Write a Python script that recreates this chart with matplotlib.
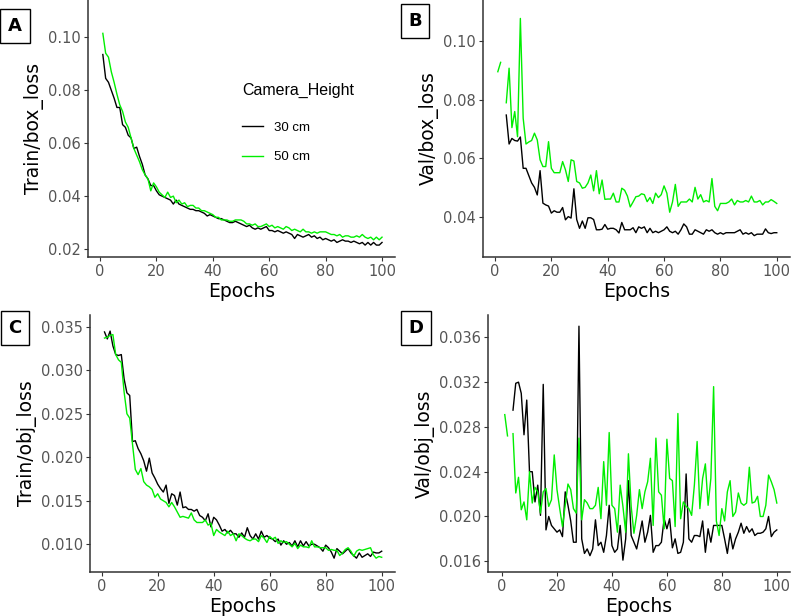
import numpy as np
import matplotlib
matplotlib.use('Agg')
import matplotlib.pyplot as plt

nan = np.nan
epochs = np.arange(1, 101)

# Train/box_loss
train_box_30 = [0.0935, 0.0845, 0.083, 0.080, 0.077, 0.0735, 0.0735, 0.067, 0.066, 0.063,
                0.062, 0.058, 0.0585, 0.055, 0.052, 0.048, 0.0465, 0.044, 0.044, 0.042,
                0.0405, 0.040, 0.0395, 0.039, 0.0385, 0.037, 0.0385, 0.037, 0.0365, 0.036,
                0.0355, 0.035, 0.035, 0.0345, 0.0345, 0.034, 0.0335, 0.0325, 0.033, 0.0325,
                0.032, 0.0315, 0.0315, 0.031, 0.0305, 0.030, 0.030, 0.0305, 0.030, 0.0295,
                0.029, 0.0285, 0.029, 0.028, 0.0275, 0.028, 0.0275, 0.028, 0.0285, 0.027,
                0.027, 0.0265, 0.027, 0.0265, 0.026, 0.0265, 0.026, 0.0255, 0.024, 0.0255,
                0.025, 0.0245, 0.025, 0.0255, 0.0245, 0.025, 0.024, 0.0245, 0.0235, 0.024,
                0.0235, 0.023, 0.0235, 0.0225, 0.023, 0.0235, 0.023, 0.023, 0.0225, 0.023,
                0.0225, 0.022, 0.0225, 0.0215, 0.0225, 0.0215, 0.0225, 0.0215, 0.0215, 0.0225]
train_box_50 = [0.1015, 0.094, 0.0925, 0.087, 0.083, 0.0785, 0.0745, 0.072, 0.068, 0.066,
                0.062, 0.058, 0.0555, 0.053, 0.050, 0.048, 0.0465, 0.042, 0.045, 0.0435,
                0.0415, 0.0405, 0.0395, 0.0415, 0.0395, 0.040, 0.0375, 0.0385, 0.037, 0.0375,
                0.036, 0.0365, 0.0365, 0.0355, 0.0355, 0.0345, 0.0345, 0.034, 0.0335, 0.033,
                0.032, 0.032, 0.031, 0.031, 0.031, 0.0305, 0.0305, 0.031, 0.031, 0.031,
                0.0305, 0.0295, 0.0295, 0.029, 0.0295, 0.0285, 0.0285, 0.029, 0.0295, 0.0285,
                0.029, 0.028, 0.0285, 0.028, 0.0275, 0.0285, 0.028, 0.027, 0.0275, 0.027,
                0.0265, 0.0275, 0.0265, 0.0265, 0.026, 0.0265, 0.026, 0.0265, 0.0265, 0.0265,
                0.026, 0.0255, 0.0255, 0.025, 0.0255, 0.0245, 0.025, 0.025, 0.0245, 0.0245,
                0.025, 0.0245, 0.0255, 0.0245, 0.024, 0.0245, 0.0235, 0.0245, 0.0235, 0.0245]

# Val/box_loss
val_box_30 = [nan, nan, nan, 0.0747, 0.0648, 0.0667, 0.066, 0.0658, 0.0672, 0.0565,
              0.0565, 0.054, 0.0515, 0.050, 0.0474, 0.0557, 0.0446, 0.044, 0.0436, 0.0412,
              0.042, 0.0415, 0.0415, 0.0431, 0.0389, 0.040, 0.0395, 0.0495, 0.039, 0.036,
              0.0385, 0.036, 0.0396, 0.0396, 0.039, 0.0355, 0.0355, 0.0357, 0.0373, 0.0357,
              0.036, 0.036, 0.0355, 0.0344, 0.038, 0.0355, 0.0355, 0.0355, 0.0362, 0.0345,
              0.0365, 0.036, 0.0365, 0.0345, 0.036, 0.0345, 0.035, 0.0345, 0.035, 0.0355,
              0.0365, 0.035, 0.0345, 0.035, 0.034, 0.0355, 0.0375, 0.0365, 0.034, 0.034,
              0.0355, 0.035, 0.0345, 0.034, 0.0355, 0.035, 0.0355, 0.0345, 0.034, 0.0345,
              0.034, 0.0345, 0.0345, 0.0345, 0.0345, 0.035, 0.0355, 0.034, 0.0345, 0.034,
              0.0345, 0.0335, 0.034, 0.034, 0.034, 0.0358, 0.0345, 0.0342, 0.0345, 0.0345]
val_box_50 = [0.0895, 0.0927, nan, 0.0789, 0.0907, 0.0704, 0.0759, 0.0673, 0.1077, 0.0736,
              0.0648, 0.0655, 0.066, 0.0685, 0.0662, 0.0594, 0.0571, 0.0571, 0.0656, 0.0565,
              0.055, 0.055, 0.055, 0.0588, 0.056, 0.052, 0.0594, 0.059, 0.052, 0.0515,
              0.0497, 0.050, 0.0515, 0.0542, 0.0488, 0.0557, 0.0478, 0.0525, 0.0459, 0.046,
              0.046, 0.048, 0.045, 0.045, 0.0497, 0.049, 0.047, 0.0433, 0.045, 0.0468,
              0.047, 0.0478, 0.0475, 0.0451, 0.0465, 0.0445, 0.048, 0.0465, 0.0475, 0.0505,
              0.048, 0.0415, 0.045, 0.051, 0.0435, 0.045, 0.045, 0.045, 0.046, 0.045,
              0.050, 0.046, 0.0475, 0.045, 0.0455, 0.045, 0.053, 0.0435, 0.042, 0.0445,
              0.0445, 0.0445, 0.045, 0.046, 0.044, 0.0455, 0.045, 0.045, 0.0455, 0.045,
              0.047, 0.045, 0.045, 0.0455, 0.044, 0.045, 0.045, 0.0458, 0.0452, 0.0445]

# Train/obj_loss
train_obj_30 = [0.0344, 0.0336, 0.0345, 0.0328, 0.0318, 0.0317, 0.0318, 0.0290, 0.0274, 0.0271,
                0.0218, 0.0219, 0.0210, 0.0204, 0.0196, 0.0184, 0.0199, 0.0182, 0.0176, 0.0169,
                0.0164, 0.0160, 0.0168, 0.0147, 0.0158, 0.0156, 0.0145, 0.0160, 0.0142, 0.0143,
                0.0140, 0.0140, 0.0138, 0.0140, 0.0133, 0.0131, 0.0127, 0.0135, 0.0120, 0.0131,
                0.0128, 0.0122, 0.0115, 0.0117, 0.0113, 0.0116, 0.0112, 0.0112, 0.0108, 0.0113,
                0.0108, 0.0119, 0.0110, 0.0106, 0.0112, 0.0106, 0.0115, 0.0108, 0.0110, 0.0107,
                0.0106, 0.0103, 0.0106, 0.0099, 0.0104, 0.0100, 0.0102, 0.0098, 0.0104, 0.0097,
                0.0104, 0.0098, 0.0103, 0.0098, 0.0100, 0.0100, 0.0098, 0.0096, 0.0092, 0.0099,
                0.0096, 0.0091, 0.0084, 0.0095, 0.0092, 0.0089, 0.0092, 0.0095, 0.0090, 0.0087,
                0.0084, 0.0090, 0.0085, 0.0087, 0.0089, 0.0086, 0.0091, 0.0090, 0.0090, 0.0092]
train_obj_50 = [0.0337, 0.0338, 0.0340, 0.0341, 0.0318, 0.0312, 0.0309, 0.0275, 0.0250, 0.0245,
                0.0215, 0.0186, 0.0180, 0.0187, 0.0172, 0.0168, 0.0166, 0.0163, 0.0154, 0.0158,
                0.0152, 0.0150, 0.0148, 0.0143, 0.0148, 0.0143, 0.0137, 0.0131, 0.0132, 0.0131,
                0.0130, 0.0136, 0.0128, 0.0125, 0.0125, 0.0125, 0.0128, 0.0122, 0.0124, 0.0110,
                0.0117, 0.0114, 0.0112, 0.0110, 0.0115, 0.0110, 0.0112, 0.0104, 0.0112, 0.0110,
                0.0107, 0.0105, 0.0104, 0.0106, 0.0106, 0.0103, 0.0110, 0.0107, 0.0102, 0.0109,
                0.0106, 0.0108, 0.0101, 0.0104, 0.0102, 0.0103, 0.0100, 0.0097, 0.0101, 0.0095,
                0.0099, 0.0097, 0.0097, 0.0096, 0.0104, 0.0097, 0.0097, 0.0096, 0.0096, 0.0096,
                0.0093, 0.0094, 0.0093, 0.0093, 0.0087, 0.0090, 0.0094, 0.0096, 0.0092, 0.0086,
                0.0092, 0.0094, 0.0093, 0.0094, 0.0095, 0.0096, 0.0088, 0.0084, 0.0086, 0.0085]

# Val/obj_loss
val_obj_30 = [nan, nan, nan, 0.0295, 0.0319, 0.0320, 0.0310, 0.0273, 0.0304, 0.0240,
              0.0240, 0.0213, 0.0228, 0.0201, 0.0318, 0.0188, 0.0200, 0.0192, 0.0189, 0.0186,
              0.0188, 0.0182, 0.0222, 0.0210, 0.0196, 0.0177, 0.0177, 0.0370, 0.0180, 0.0167,
              0.0171, 0.0165, 0.0171, 0.0197, 0.0174, 0.0177, 0.0168, 0.0183, 0.0210, 0.0174,
              0.0168, 0.0171, 0.0192, 0.0161, 0.0180, 0.0232, 0.0183, 0.0177, 0.0171, 0.0183,
              0.0196, 0.0177, 0.0186, 0.0201, 0.0168, 0.0174, 0.0174, 0.0177, 0.0198, 0.0189,
              0.0198, 0.0172, 0.0180, 0.0167, 0.0168, 0.0177, 0.0238, 0.0180, 0.0177, 0.0183,
              0.0183, 0.0182, 0.0196, 0.0168, 0.0189, 0.0177, 0.0192, 0.0192, 0.0192, 0.0192,
              0.0180, 0.0167, 0.0185, 0.0171, 0.0180, 0.0186, 0.0194, 0.0185, 0.0191, 0.0186,
              0.0189, 0.0183, 0.0185, 0.0185, 0.0186, 0.0189, 0.0200, 0.0182, 0.0186, 0.0188]
val_obj_50 = [0.0291, 0.0272, nan, 0.0274, 0.0221, 0.0235, 0.0206, 0.0213, 0.0197, 0.0240,
              0.0212, 0.0226, 0.0222, 0.0203, 0.0222, 0.0225, 0.0209, 0.0215, 0.0255, 0.0224,
              0.0207, 0.0191, 0.0210, 0.0229, 0.0224, 0.0207, 0.0203, 0.0270, 0.0197, 0.0215,
              0.0212, 0.0207, 0.0207, 0.0210, 0.0226, 0.0198, 0.0249, 0.0210, 0.0275, 0.0210,
              0.0207, 0.0186, 0.0228, 0.0209, 0.0186, 0.0256, 0.0209, 0.0185, 0.0201, 0.0224,
              0.0207, 0.0222, 0.0231, 0.0252, 0.0192, 0.0270, 0.0222, 0.0219, 0.0189, 0.0269,
              0.0234, 0.0232, 0.0191, 0.0292, 0.0198, 0.0213, 0.0209, 0.0207, 0.0201, 0.0228,
              0.0267, 0.0207, 0.0234, 0.0247, 0.0210, 0.0234, 0.0316, 0.0196, 0.0183, 0.0207,
              0.0196, 0.0222, 0.0232, 0.0200, 0.0204, 0.0221, 0.0212, 0.0210, 0.0212, 0.0244,
              0.0212, 0.0213, 0.0218, 0.0200, 0.0200, 0.0210, 0.0237, 0.0231, 0.0224, 0.0212]

heights = ['30 cm', '50 cm']
colors = ['#000000', '#00EE00']
W, H = 791, 616

panels = [
    # letter, ylabel, series, pixel box (l, t, r, b), ylim, yticks, tick format
    ('A', 'Train/box_loss', [train_box_30, train_box_50], (88, 0, 395, 257),
     (0.0170, 0.1141), [0.02, 0.04, 0.06, 0.08, 0.10], '%.2f'),
    ('B', 'Val/box_loss', [val_box_30, val_box_50], (483, 0, 790, 257),
     (0.0262, 0.1140), [0.04, 0.06, 0.08, 0.10], '%.2f'),
    ('C', 'Train/obj_loss', [train_obj_30, train_obj_50], (90, 315, 395, 572),
     (0.00681, 0.03635), [0.010, 0.015, 0.020, 0.025, 0.030, 0.035], '%.3f'),
    ('D', 'Val/obj_loss', [val_obj_30, val_obj_50], (488, 315, 790, 572),
     (0.01504, 0.0380), [0.016, 0.020, 0.024, 0.028, 0.032, 0.036], '%.3f'),
]
letter_pos = {'A': (15, 26), 'B': (415, 21), 'C': (15, 328), 'D': (416, 328)}
xlims = {'A': (-4.26, 104.6), 'B': (-4.26, 104.7), 'C': (-4.18, 104.75), 'D': (-5.1, 104.8)}

fig = plt.figure(figsize=(W / 100, H / 100), dpi=100)
for letter, ylab, series, (l, t, r, b), ylim, yticks, fmt in panels:
    ax = fig.add_axes([l / W, 1 - b / H, (r - l) / W, (b - t) / H])
    for s, c, lab in zip(series, colors, heights):
        ax.plot(epochs, s, color=c, lw=1.0, label=lab)
    ax.set_xlim(*xlims[letter])
    ax.set_ylim(*ylim)
    ax.set_xticks([0, 20, 40, 60, 80, 100])
    ax.set_yticks(yticks)
    ax.set_yticklabels([fmt % v for v in yticks])
    for side in ['top', 'right']:
        ax.spines[side].set_visible(False)
    for side in ['left', 'bottom']:
        ax.spines[side].set_color('#333333')
        ax.spines[side].set_linewidth(1.1)
    ax.tick_params(direction='out', length=3, width=0.8, color='#333333',
                   labelcolor='#555555', labelsize=10.5, pad=2)
    ax.set_xlabel('Epochs', fontsize=13.5, labelpad=2)
    ax.set_ylabel(ylab, fontsize=13.5, labelpad=3)
    fig.text(letter_pos[letter][0] / W, 1 - letter_pos[letter][1] / H, letter,
             fontsize=13, fontweight='bold', ha='center', va='center',
             bbox=dict(boxstyle='square,pad=0.42', fc='white', ec='black', lw=1.0))
    if letter == 'A':
        leg = ax.legend(title='Camera_Height', loc='upper left',
                        bbox_to_anchor=(0.463, 0.724), frameon=False,
                        handlelength=1.6, handletextpad=0.8, labelspacing=1.3,
                        prop={'family': 'Liberation Sans', 'size': 9.5})
        leg.get_title().set_fontfamily('Liberation Sans')
        leg.get_title().set_fontsize(11.5)
        leg._legend_box.align = 'left'
        leg._legend_box.sep = 17

fig.savefig('out.png', dpi=100)
